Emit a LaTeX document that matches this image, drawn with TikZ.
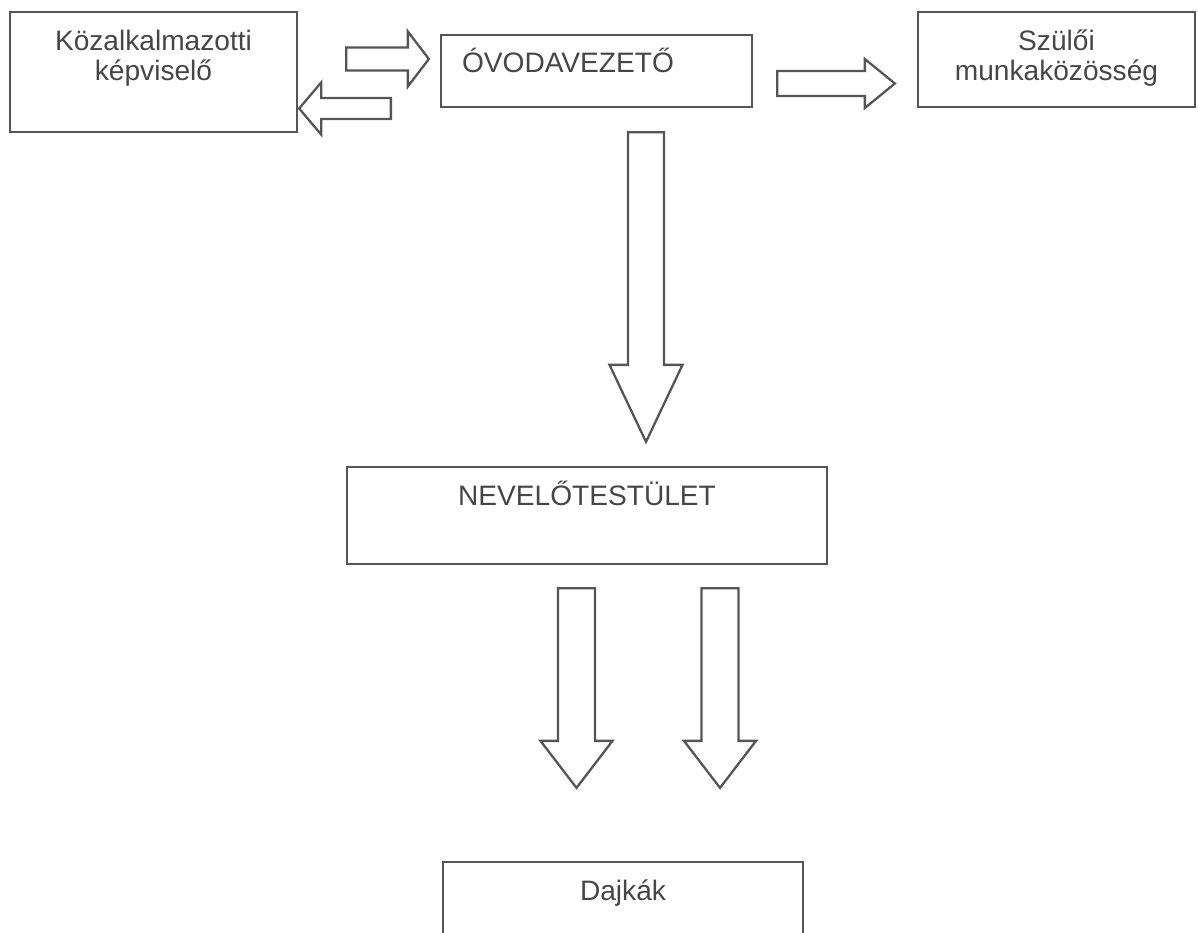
\documentclass[tikz,border=0pt]{standalone}
\usepackage{fontspec}
\setmainfont{Liberation Sans}
\usepackage{xcolor}
\definecolor{boxgray}{RGB}{85,85,85}
\definecolor{textgray}{RGB}{70,70,70}
\usepackage{tikz}
\usetikzlibrary{calc}
\tikzstyle{box} = [
    rectangle, align=center,
    draw=boxgray, line width=1.3pt,
    inner sep=0pt,
    text=textgray,
    font=\fontsize{16}{17.5}\selectfont,
]
\tikzstyle{fat} = [
    draw=boxgray, line width=1.3pt,
    line join=miter, fill=white,
]
% block arrow: tail, tip, half shaft, half head, head length
\newcommand{\fatarrow}[5]{
    \coordinate (hb) at ($(#2)!#5!(#1)$);
    \draw [fat] ($(#1)!#3!90:(#2)$) -- ($(hb)!#3!90:(#2)$) -- ($(hb)!#4!90:(#2)$)
        -- (#2) -- ($(hb)!#4!-90:(#2)$) -- ($(hb)!#3!-90:(#2)$)
        -- ($(#1)!#3!-90:(#2)$) -- cycle;
}

\begin{document}
\begin{tikzpicture}
    \useasboundingbox (0,0) rectangle (23.96,-18.64);
    % boxes
    \node (kozal) at (3.07,-1.44) [box, text width=5.74cm, text height=0.76cm, text depth=1.64cm] {Közalkalmazotti\\képviselő};
    \node (ovoda) at (11.93,-1.42) [box, text width=5.38cm, inner xsep=0.42cm, align=left, text height=0.74cm, text depth=0.70cm] {ÓVODAVEZETŐ};
    \node (szuloi) at (21.13,-1.19) [box, text width=5.54cm, text height=0.76cm, text depth=1.14cm] {Szülői\\munkaközösség};
    \node (nevelo) at (11.74,-10.31) [box, text width=9.60cm, text height=0.76cm, text depth=1.18cm] {NEVELŐTESTÜLET};
    \node (dajkak) at (12.46,-18.12) [box, text width=7.20cm, text height=0.76cm, text depth=1.00cm] {Dajkák};

    % arrow ends
    \coordinate (a1s) at ($(kozal.east)+(0.96,0.26)$);
    \coordinate (a1e) at ($(ovoda.west)+(-0.22,0.24)$);
    \coordinate (a2s) at ($(ovoda.west)+(-0.98,-0.75)$);
    \coordinate (a2e) at ($(kozal.east)+(0.02,-0.73)$);
    \coordinate (a3s) at ($(ovoda.east)+(0.48,-0.25)$);
    \coordinate (a3e) at ($(szuloi.west)+(-0.44,-0.48)$);
    \coordinate (a4s) at ($(ovoda.south)+(0.99,-0.48)$);
    \coordinate (a4e) at ($(nevelo.north)+(1.18,0.48)$);
    \foreach \x/\dx/\ex in {5/-0.21/-0.93, 6/2.66/1.94} {
        \coordinate (a\x s) at ($(nevelo.south)+(\dx,-0.46)$);
        \coordinate (a\x e) at ($(dajkak.north)+(\ex,1.46)$);
    }

    % arrows
    \fatarrow{a1s}{a1e}{0.23cm}{0.55cm}{0.42cm}
    \fatarrow{a2s}{a2e}{0.21cm}{0.52cm}{0.44cm}
    \fatarrow{a3s}{a3e}{0.25cm}{0.49cm}{0.60cm}
    \fatarrow{a4s}{a4e}{0.36cm}{0.73cm}{1.54cm}
    \foreach \x in {5,6} {
        \fatarrow{a\x s}{a\x e}{0.37cm}{0.72cm}{0.94cm}
    }
\end{tikzpicture}
\end{document}
